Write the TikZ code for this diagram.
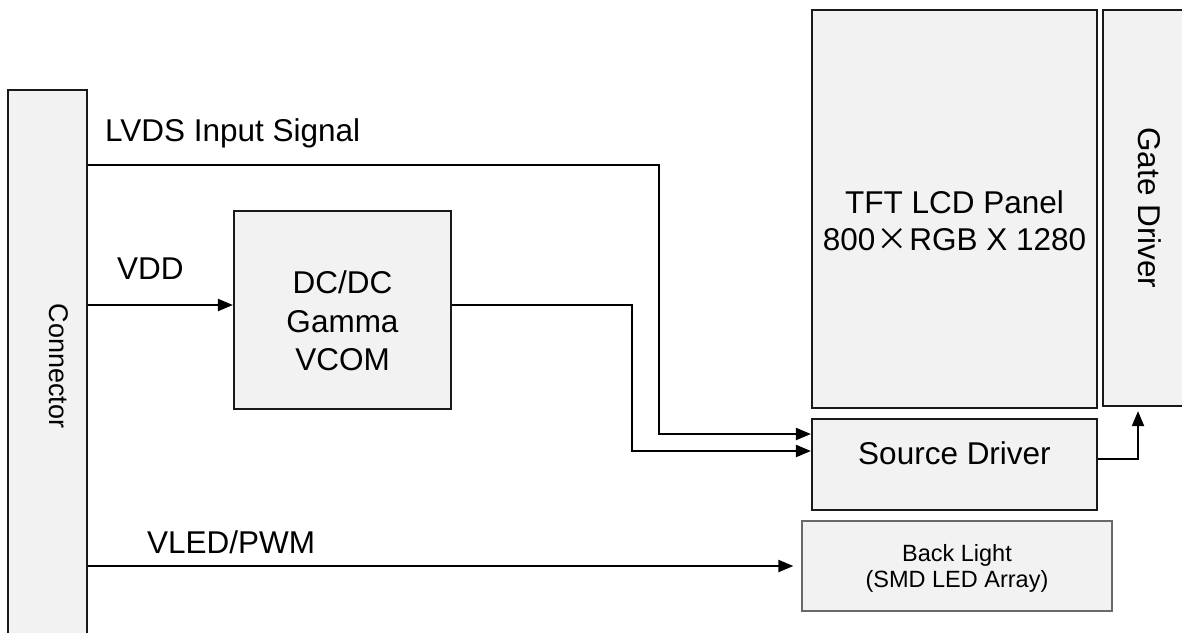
\documentclass[tikz,border=0pt]{standalone}
\usepackage{fontspec}
\setmainfont{Liberation Sans}
\newfontfamily\cjk{Noto Sans CJK SC}
\usetikzlibrary{arrows.meta}
\definecolor{boxfill}{RGB}{242,242,242}
\definecolor{boxline}{RGB}{25,25,25}
\definecolor{blline}{RGB}{105,105,105}
\begin{document}
\begin{tikzpicture}[x=1pt,y=-1pt,
  blk/.style={draw=boxline, fill=boxfill, line width=2.2pt, inner sep=0pt},
  blbox/.style={draw=blline, fill=boxfill, line width=1.3pt, inner sep=0pt},
  lbl/.style={font=\fontsize{31.5}{38}\selectfont, inner sep=0pt},
  smalllbl/.style={font=\fontsize{23.5}{27}\selectfont, inner sep=0pt},
  wire/.style={line width=2.1pt, -{Triangle[length=15pt,width=12pt]}},
  plainwire/.style={line width=2.1pt}]
\useasboundingbox (0,0) rectangle (1182,632);
% boxes
\node[blk, minimum width=79pt, minimum height=552pt] (conn) at (47.5,366) {};
\node[blk, minimum width=217pt, minimum height=198pt] (dc) at (342.5,310) {};
\node[blk, minimum width=285pt, minimum height=398pt] (tft) at (954.5,209) {};
\node[blk, minimum width=90pt, minimum height=396pt] (gate) at (1148,208) {};
\node[blk, minimum width=285pt, minimum height=91pt] (src) at (954.5,464.5) {};
\node[blbox, minimum width=310pt, minimum height=90pt] (bl) at (957,566) {};
% texts
\node[lbl, anchor=base west] (lvdst) at (105,141) {LVDS Input Signal};
\node[lbl, anchor=base west] (vddt) at (117,279) {VDD};
\node[lbl, anchor=base west] (vledt) at (147,553) {VLED/PWM};
\node[lbl, anchor=base] (dc1) at (342.5,293) {DC/DC};
\node[lbl, anchor=base] (dc2) at (342.5,332) {Gamma};
\node[lbl, anchor=base] (dc3) at (342.5,370) {VCOM};
\node[lbl, anchor=base] (tft1) at (954.5,213) {TFT LCD Panel};
\node[lbl, anchor=base] (tft2) at (954.5,250) {800\makebox[34pt]{\cjk ×}RGB X 1280};
\node[lbl, anchor=base] (srct) at (954.5,464) {Source Driver};
\node[lbl, anchor=base, rotate=-90] (gatet) at (1138,208) {Gate Driver};
\node[lbl, anchor=base, rotate=-90, font=\fontsize{27}{32}\selectfont] (connt) at (49,366) {Connector};
\node[smalllbl, anchor=base] (bl1) at (957,561) {Back Light};
\node[smalllbl, anchor=base] (bl2) at (957,587) {(SMD LED Array)};
% connectors
\draw[wire] (conn.east |- 0,165) -- (659,165) -- (659,434) -- (src.west |- 0,434);
\draw[wire] (conn.east |- 0,305) -- (dc.west |- 0,305);
\draw[wire] (dc.east |- 0,305) -- (632,305) -- (632,451) -- (src.west |- 0,451);
\draw[wire, shorten >=4pt] (src.east |- 0,459) -- (1138,459) -- (gate.south -| 1138,0);
\draw[wire, shorten >=8pt] (conn.east |- 0,566) -- (bl.west);
\end{tikzpicture}
\end{document}
